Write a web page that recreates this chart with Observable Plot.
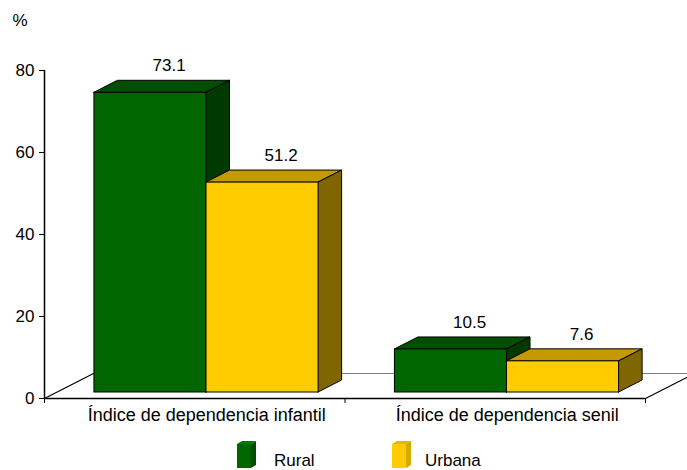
<!DOCTYPE html>
<html>
<head>
<meta charset="utf-8">
<script src="https://cdn.jsdelivr.net/npm/d3@7"></script>
<script src="https://cdn.jsdelivr.net/npm/@observablehq/plot@0.6"></script>
<style>
  html, body { margin: 0; padding: 0; background: #fff; }
  #chart { width: 687px; }
  #chart svg { display: block; }
  svg text { font-family: "Liberation Sans", Arial, sans-serif; }
</style>
</head>
<body>
<div id="chart"></div>
<script>
// ---- data ----
const categories = ["Índice de dependencia infantil", "Índice de dependencia senil"];
const seriesNames = ["Rural", "Urbana"];
const rural = [73.1, 10.5];
const urbana = [51.2, 7.6];
const yTicks = [0, 20, 40, 60, 80];
const yLabel = "%";

// ---- colours per series: front, top, side ----
const palette = {
  Rural:  {front: "#006600", top: "#004f00", side: "#003a00", legendSide: "#004d00", legendTop: "#007a00"},
  Urbana: {front: "#ffcc00", top: "#c49a00", side: "#7f6600", legendSide: "#d4a900", legendTop: "#e6b800"}
};

// ---- pseudo-3D geometry (in data units) ----
const DX = 0.163;   // floor depth along x (category units)
const DY = 6.1;     // floor depth along y (value units)
const F1 = 0.24;    // bar front plane depth fraction
const F2 = 0.72;    // bar back plane depth fraction
const BAR_W = 0.373;
const GROUP_OFF = 0.127;

const values = {Rural: rural, Urbana: urbana};
const bars = [];
categories.forEach((c, i) => {
  seriesNames.forEach((s, j) => {
    const v = values[s][i];
    const x0 = i + GROUP_OFF + j * BAR_W;
    bars.push({id: `${i}-${j}`, cat: c, i, series: s, v, x0, x1: x0 + BAR_W});
  });
});

const fronts = bars.map(b => ({...b,
  fx1: b.x0 + F1 * DX, fx2: b.x1 + F1 * DX, fy1: F1 * DY, fy2: b.v + F1 * DY,
  fill: palette[b.series].front}));
const tops = bars.flatMap(b => [F1, F2].map(f => ({id: b.id, series: b.series,
  y: b.v + f * DY, xa: b.x0 + f * DX, xb: b.x1 + f * DX, fill: palette[b.series].top})));
const sides = bars.flatMap(b => [F1, F2].map(f => ({id: b.id, series: b.series,
  x: b.x1 + f * DX, ya: f * DY, yb: b.v + f * DY, fill: palette[b.series].side})));
const labels = bars.map(b => ({...b,
  lx: (b.x0 + b.x1) / 2 + 0.62 * DX, ly: b.v + F2 * DY, text: b.v.toFixed(1)}));

const floor = [{y: 0, xa: 0, xb: 2}, {y: DY, xa: DX, xb: 2 + DX}];

const barMarks = seriesNames.flatMap(s => [
  Plot.areaX(tops.filter(d => d.series === s), {y: "y", x1: "xa", x2: "xb", z: "id", fill: "fill", stroke: "#000", strokeWidth: 1, curve: "linear"}),
  Plot.areaY(sides.filter(d => d.series === s), {x: "x", y1: "ya", y2: "yb", z: "id", fill: "fill", stroke: "#000", strokeWidth: 1, curve: "linear"}),
  Plot.rect(fronts.filter(d => d.series === s), {x1: "fx1", x2: "fx2", y1: "fy1", y2: "fy2", fill: "fill", stroke: "#000", strokeWidth: 1})
]);

const chart = Plot.plot({
  width: 687,
  height: 430,
  marginLeft: 44,
  marginRight: 42,
  marginTop: 70,
  marginBottom: 32,
  style: {fontSize: "17px", fontFamily: "Liberation Sans, Arial, sans-serif", background: "#fff", overflow: "visible"},
  color: {type: "identity"},
  x: {domain: [0, 2], axis: null},
  y: {domain: [0, 80], ticks: yTicks, tickSize: 5, tickPadding: 5, label: null},
  marks: [
    // floor
    Plot.areaX(floor, {y: "y", x1: "xa", x2: "xb", fill: "#fff", curve: "linear"}),
    Plot.line([{x: DX, y: DY}, {x: 2 + DX, y: DY}], {x: "x", y: "y", stroke: "#808080", strokeWidth: 1.2}),
    Plot.line([{x: 0, y: 0}, {x: DX, y: DY}], {x: "x", y: "y", stroke: "#000", strokeWidth: 1.2}),
    Plot.line([{x: 2, y: 0}, {x: 2 + DX, y: DY}], {x: "x", y: "y", stroke: "#000", strokeWidth: 1.2}),
    // bars
    ...barMarks,
    // axes
    Plot.ruleY([0], {x1: 0, x2: 2, stroke: "#000", strokeWidth: 1.5}),
    Plot.ruleX([0], {y1: 0, y2: 80, stroke: "#000", strokeWidth: 1.5}),
    Plot.axisX({ticks: [0, 1, 2], tickFormat: () => "", tickSize: 5}),
    Plot.text(categories.map((c, i) => ({c, x: i + 0.5})), {x: "x", y: () => 0, text: "c", dx: 12, dy: 17, lineAnchor: "middle", fontSize: 18, fill: "#000"}),
    Plot.text(labels, {x: "lx", y: "ly", text: "text", dy: -15, lineAnchor: "middle", fontSize: 17, fill: "#000"}),
    Plot.text([yLabel], {frameAnchor: "top-left", text: d => d, dx: -32, dy: -50, textAnchor: "start", lineAnchor: "middle", fontSize: 17, fill: "#000"})
  ]
});
document.getElementById("chart").appendChild(chart);

// ---- legend ----
const legendItems = [
  {name: "Rural", bx: 237, tx: 274},
  {name: "Urbana", bx: 392, tx: 425}
];
const leg = d3.select("#chart").append("svg").attr("width", 687).attr("height", 40).style("display", "block");
legendItems.forEach(it => {
  const p = palette[it.name];
  const x = it.bx, top = 14, bot = 38, w = 14, dx = 5, dy = 3;
  leg.append("polygon").attr("points", `${x},${top} ${x+dx},${top-dy} ${x+w+dx},${top-dy} ${x+w},${top}`).attr("fill", p.legendTop);
  leg.append("polygon").attr("points", `${x+w},${top} ${x+w+dx},${top-dy} ${x+w+dx},${bot-dy} ${x+w},${bot}`).attr("fill", p.legendSide);
  leg.append("rect").attr("x", x).attr("y", top).attr("width", w).attr("height", bot - top).attr("fill", p.front);
  leg.append("text").attr("x", it.tx).attr("y", 36).attr("font-size", 17).attr("fill", "#000").text(it.name);
});
</script>
</body>
</html>
